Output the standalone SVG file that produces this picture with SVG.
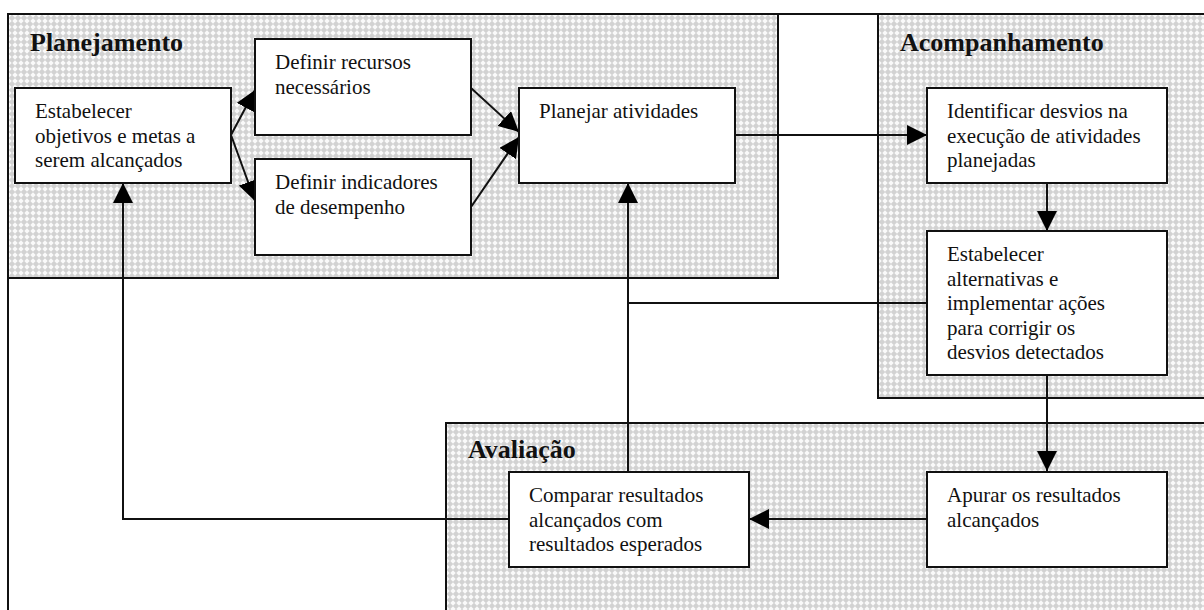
<svg xmlns="http://www.w3.org/2000/svg" width="1204" height="610" viewBox="0 0 1204 610">
<defs>
<pattern id="hatch" width="6" height="6" patternUnits="userSpaceOnUse">
<rect width="6" height="6" fill="#d2d2d2"/>
<polygon points="3,0.3 5.7,3 3,5.7 0.3,3" fill="#fafafa"/>
</pattern>
<marker id="arr" markerUnits="userSpaceOnUse" markerWidth="21" markerHeight="20" refX="20" refY="10" orient="auto">
<path d="M0,0 L20,10 L0,20 Z" fill="#000"/>
</marker>
<style>
.panel{fill:url(#hatch);stroke:#111;stroke-width:2}
.box{fill:#fff;stroke:#111;stroke-width:2}
.t{font-family:"Liberation Serif","Times New Roman",serif;font-size:21px;fill:#111}
.h{font-family:"Liberation Serif","Times New Roman",serif;font-size:26px;font-weight:bold;fill:#111}
.c{fill:none;stroke:#111;stroke-width:2}
</style>
</defs>
<rect x="0" y="0" width="1204" height="610" fill="#fff"/>
<g id="frame">
<rect x="8" y="14" width="1210" height="620" fill="none" stroke="#111" stroke-width="2"/>
</g>
<g id="panel-planejamento">
<rect class="panel" x="8" y="14" width="770" height="264"/>
<text class="h" x="30" y="51">Planejamento</text>
</g>
<g id="panel-acompanhamento">
<rect class="panel" x="878" y="14" width="340" height="384"/>
<text class="h" x="900" y="51">Acompanhamento</text>
</g>
<g id="panel-avaliacao">
<rect class="panel" x="446" y="423" width="772" height="200"/>
<text class="h" x="468" y="458">Avaliação</text>
</g>
<g id="connectors">
<line class="c" x1="231" y1="135" x2="255" y2="90" marker-end="url(#arr)"/>
<line class="c" x1="231" y1="135" x2="255" y2="201" marker-end="url(#arr)"/>
<line class="c" x1="471" y1="88" x2="519" y2="132" marker-end="url(#arr)"/>
<line class="c" x1="471" y1="207" x2="519" y2="137" marker-end="url(#arr)"/>
<line class="c" x1="735" y1="135" x2="927" y2="135" marker-end="url(#arr)"/>
<line class="c" x1="1047" y1="183" x2="1047" y2="231" marker-end="url(#arr)"/>
<polyline class="c" points="927,303 628,303"/>
<line class="c" x1="628" y1="472" x2="628" y2="183" marker-end="url(#arr)"/>
<line class="c" x1="1047" y1="375" x2="1047" y2="471" marker-end="url(#arr)"/>
<line class="c" x1="927" y1="519" x2="749" y2="519" marker-end="url(#arr)"/>
<polyline class="c" points="509,519 123,519 123,183" marker-end="url(#arr)"/>
</g>
<g id="n-estabelecer-objetivos">
<rect class="box" x="15" y="88" width="216" height="95"/>
<text class="t" x="35" y="118">Estabelecer</text>
<text class="t" x="35" y="142.5">objetivos e metas a</text>
<text class="t" x="35" y="167">serem alcançados</text>
</g>
<g id="n-definir-recursos">
<rect class="box" x="255" y="39" width="216" height="96"/>
<text class="t" x="275" y="69">Definir recursos</text>
<text class="t" x="275" y="93.5">necessários</text>
</g>
<g id="n-definir-indicadores">
<rect class="box" x="255" y="159" width="216" height="96"/>
<text class="t" x="275" y="189">Definir indicadores</text>
<text class="t" x="275" y="213.5">de desempenho</text>
</g>
<g id="n-planejar">
<rect class="box" x="519" y="88" width="216" height="95"/>
<text class="t" x="539" y="118">Planejar atividades</text>
</g>
<g id="n-identificar">
<rect class="box" x="927" y="88" width="240" height="95"/>
<text class="t" x="947" y="118">Identificar desvios na</text>
<text class="t" x="947" y="142.5">execução de atividades</text>
<text class="t" x="947" y="167">planejadas</text>
</g>
<g id="n-alternativas">
<rect class="box" x="927" y="231" width="240" height="144"/>
<text class="t" x="947" y="261">Estabelecer</text>
<text class="t" x="947" y="285.5">alternativas e</text>
<text class="t" x="947" y="310">implementar ações</text>
<text class="t" x="947" y="334.5">para corrigir os</text>
<text class="t" x="947" y="359">desvios detectados</text>
</g>
<g id="n-apurar">
<rect class="box" x="927" y="472" width="240" height="95"/>
<text class="t" x="947" y="502">Apurar os resultados</text>
<text class="t" x="947" y="526.5">alcançados</text>
</g>
<g id="n-comparar">
<rect class="box" x="509" y="472" width="240" height="95"/>
<text class="t" x="529" y="502">Comparar resultados</text>
<text class="t" x="529" y="526.5">alcançados com</text>
<text class="t" x="529" y="551">resultados esperados</text>
</g>
</svg>
